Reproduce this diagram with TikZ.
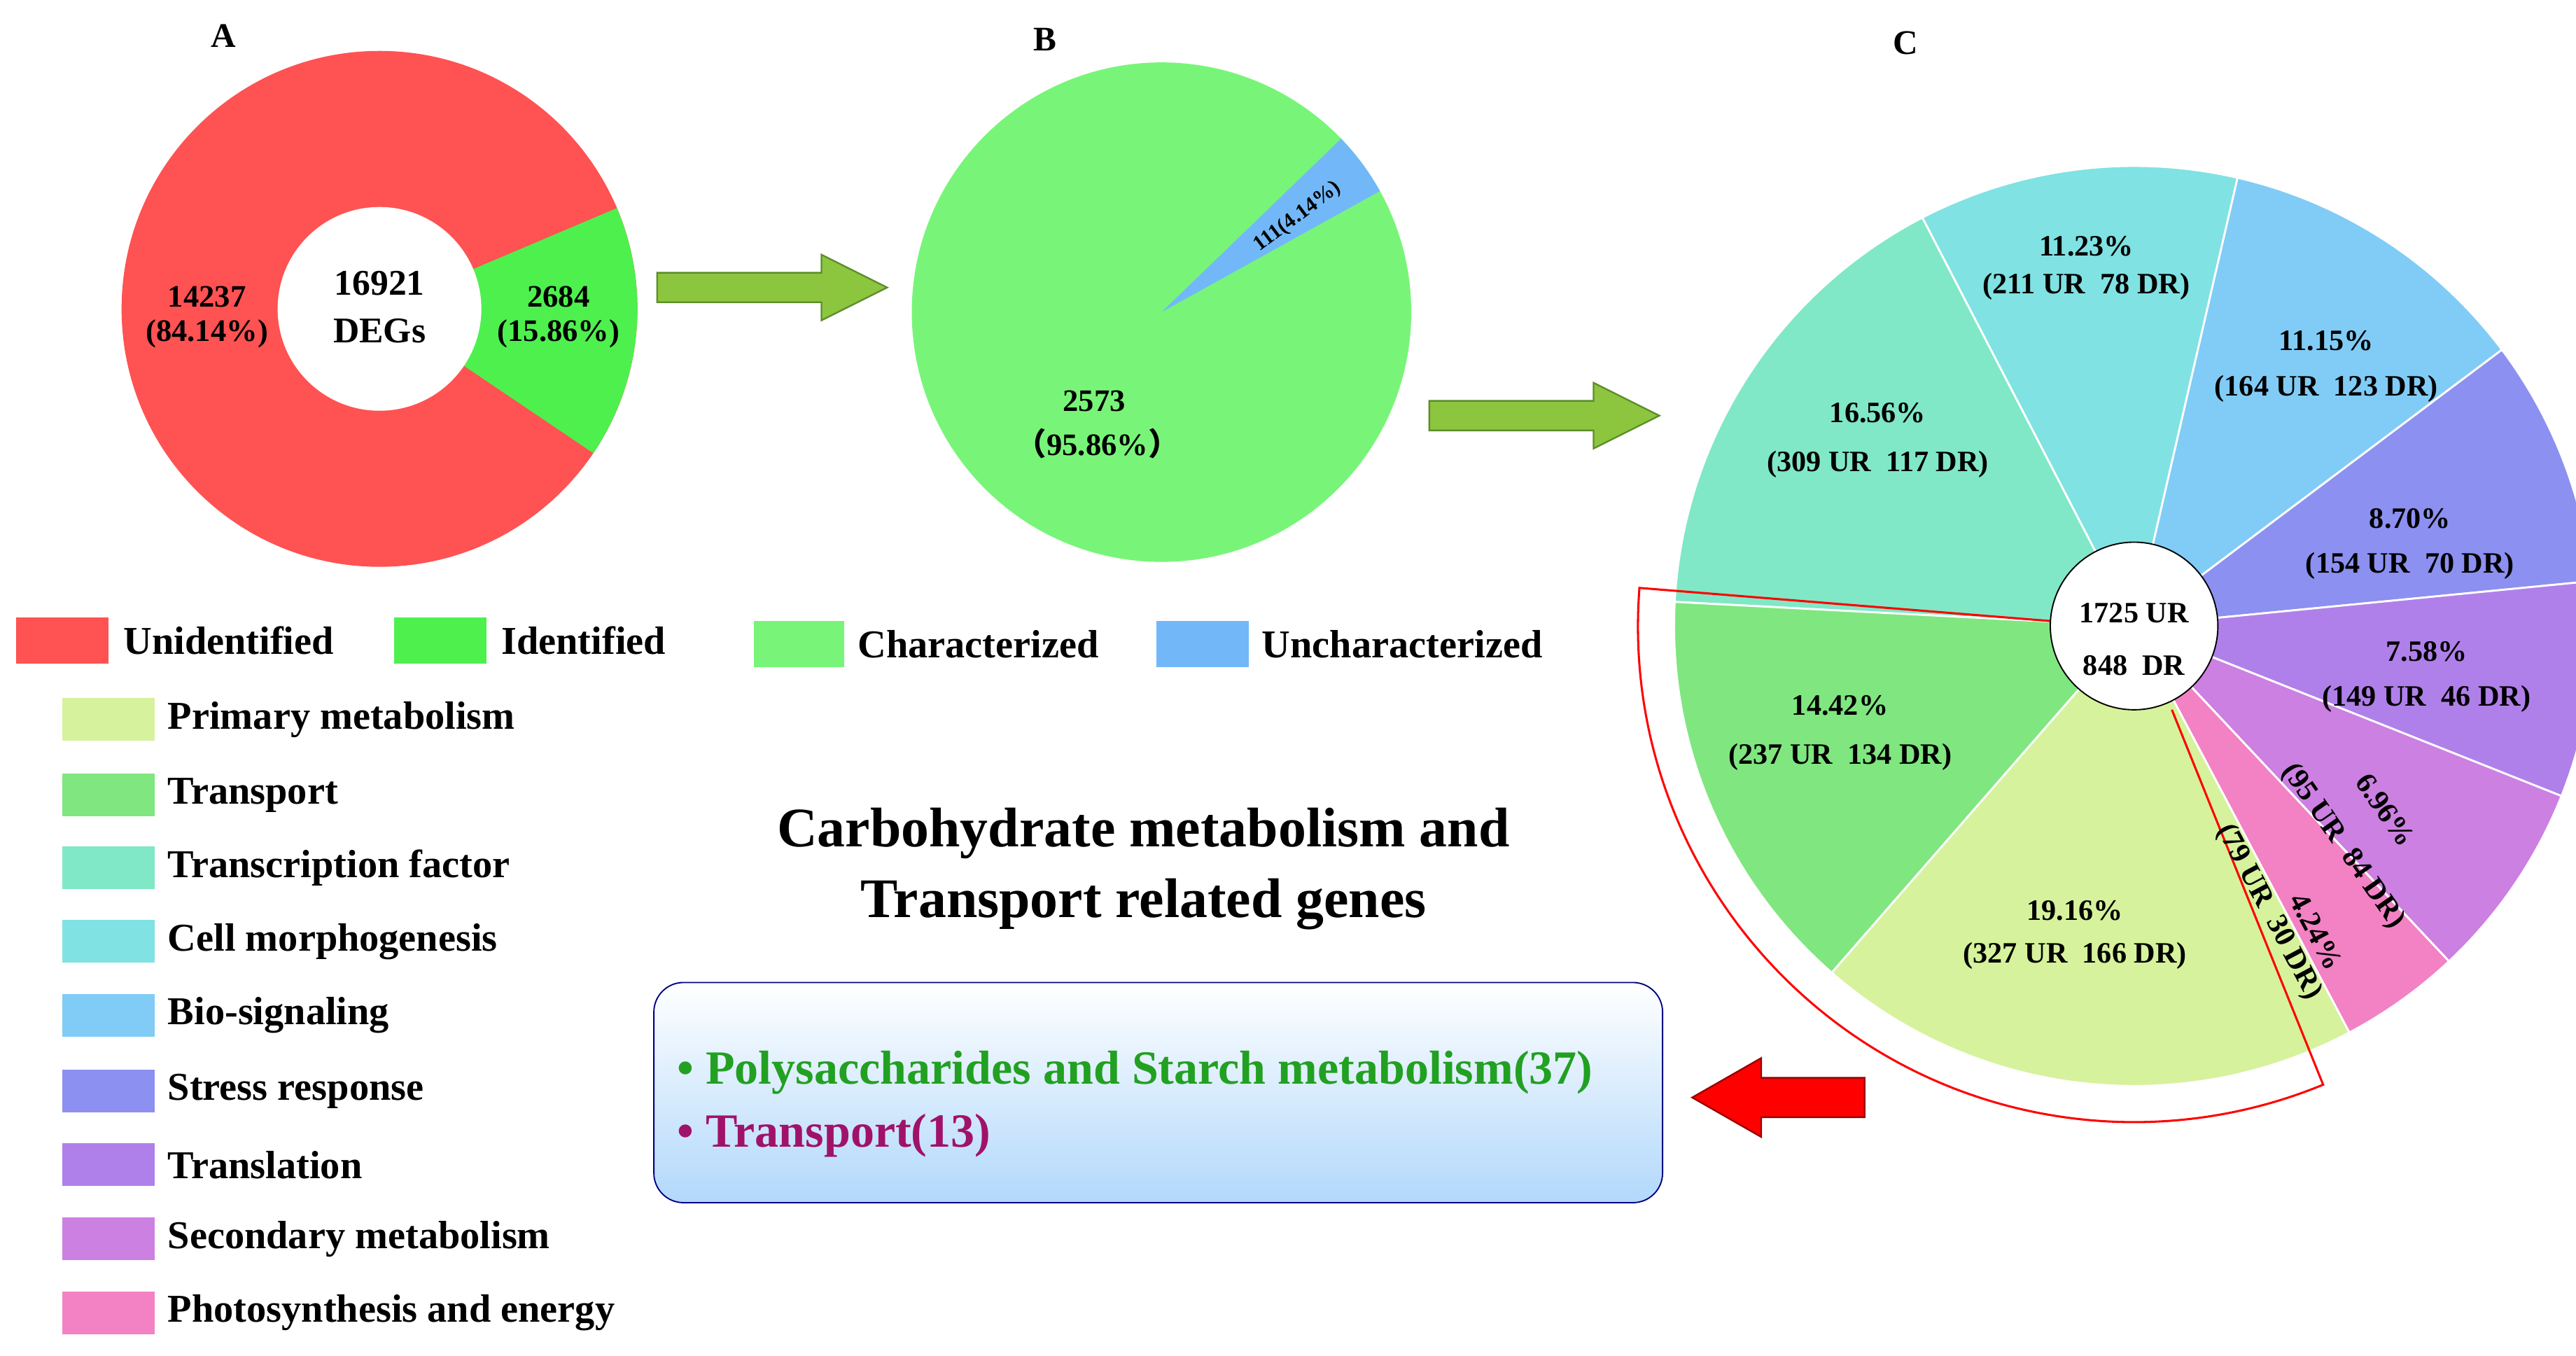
\documentclass[tikz,border=0pt]{standalone}
\usepackage{fontspec}
\setmainfont{Liberation Serif}
\newfontfamily\cjk{Noto Sans CJK SC}
\begin{document}
\begin{tikzpicture}[x=1pt,y=1pt,font=\bfseries,
  lg/.style={font=\bfseries\fontsize{24}{26}\selectfont,anchor=west,inner sep=0},
  pl/.style={font=\bfseries\fontsize{19}{21}\selectfont,align=center,inner sep=0},
  cl/.style={font=\bfseries\fontsize{18}{20}\selectfont,inner sep=0},
  sl/.style={draw=white,line width=1.2pt}]
\definecolor{cRed}{HTML}{FF5252}
\definecolor{cGreen}{HTML}{4EF04E}
\definecolor{cLG}{HTML}{78F578}
\definecolor{cBlue}{HTML}{72B8F8}
\definecolor{cPrim}{HTML}{D6F29C}
\definecolor{cTrans}{HTML}{80E680}
\definecolor{cTF}{HTML}{80E8C6}
\definecolor{cCell}{HTML}{80E2E2}
\definecolor{cBio}{HTML}{80CCF6}
\definecolor{cStress}{HTML}{8C90F0}
\definecolor{cTransl}{HTML}{B080EA}
\definecolor{cSec}{HTML}{CC80E2}
\definecolor{cPhoto}{HTML}{F282C4}
\definecolor{cArrow}{HTML}{8CC63F}
\definecolor{cArrowD}{HTML}{5E8C2A}
\definecolor{cItemG}{HTML}{22A022}
\definecolor{cItemP}{HTML}{A0126A}
\useasboundingbox (0,0) rectangle (1568,825);
% letters
\node[font=\bfseries\fontsize{21}{22}\selectfont] (lA) at (136,803) {A};
\node[font=\bfseries\fontsize{21}{22}\selectfont] (lB) at (636,801) {B};
\node[font=\bfseries\fontsize{21}{22}\selectfont] (lC) at (1160,799) {C};
% Pie A
\coordinate (ca) at (231,637);
\fill[cRed] (ca) circle (157);
\fill[cGreen] (ca) -- ++(-34:157) arc[start angle=-34,end angle=23,radius=157] -- cycle;
\fill[white] (ca) circle (62);
\node[pl,font=\bfseries\fontsize{22}{29}\selectfont] (degs) at (231,638) {16921\\DEGs};
\node[pl] (a1) at (126,632) {14237\\(84.14\%)};
\node[pl] (a2) at (340,632) {2684\\(15.86\%)};
% Pie B
\coordinate (cb) at (707,635);
\fill[cLG] (cb) circle (152);
\fill[cBlue] (cb) -- ++(29:152) arc[start angle=29,end angle=44,radius=152] -- cycle;
\node[pl] (b1) at (666,581) {2573};
\node[pl] (b2) at (668,555) {{\cjk （}95.86\%{\cjk ）}};
\node[cl,rotate=37,font=\bfseries\fontsize{13}{15}\selectfont] (b3) at (790,693) {111(4.14\%)};
% arrows
\filldraw[fill=cArrow,draw=cArrowD,line width=1pt] (400,641)--(500,641)--(500,630)--(540,650)--(500,670)--(500,659)--(400,659)--cycle;
\filldraw[fill=cArrow,draw=cArrowD,line width=1pt] (870,563)--(970,563)--(970,552)--(1010,572)--(970,592)--(970,581)--(870,581)--cycle;
\filldraw[fill=red,draw=red!60!black,line width=1pt] (1135,145)--(1072,145)--(1072,133)--(1030,157)--(1072,181)--(1072,169)--(1135,169)--cycle;
% Pie C
\coordinate (cc) at (1299,444);
\def\R{280}
\fill[cTF,sl] (cc) -- ++(177:\R) arc[start angle=177,end angle=117.4,radius=\R] -- cycle;
\fill[cCell,sl] (cc) -- ++(117.4:\R) arc[start angle=117.4,end angle=77,radius=\R] -- cycle;
\fill[cBio,sl] (cc) -- ++(77:\R) arc[start angle=77,end angle=36.9,radius=\R] -- cycle;
\fill[cStress,sl] (cc) -- ++(36.9:\R) arc[start angle=36.9,end angle=5.6,radius=\R] -- cycle;
\fill[cTransl,sl] (cc) -- ++(5.6:\R) arc[start angle=5.6,end angle=-21.7,radius=\R] -- cycle;
\fill[cSec,sl] (cc) -- ++(-21.7:\R) arc[start angle=-21.7,end angle=-46.8,radius=\R] -- cycle;
\fill[cPhoto,sl] (cc) -- ++(-46.8:\R) arc[start angle=-46.8,end angle=-62.1,radius=\R] -- cycle;
\fill[cPrim,sl,shift={(-4,-12)}] (cc) -- ++(-62.1:\R) arc[start angle=-62.1,end angle=-131.1,radius=\R] -- cycle;
\fill[cTrans,sl,shift={(-14,-8)}] (cc) -- ++(-131.1:\R) arc[start angle=-131.1,end angle=-183,radius=\R] -- cycle;
\draw[red,line width=1.3pt] (1248,447) -- ([shift={(175.6:302)}]cc) arc[start angle=175.6,end angle=292.4,radius=302] -- (1322,393);
\filldraw[fill=white,draw=black,line width=0.8pt] (cc) circle (51);
\node[cl,align=center,font=\bfseries\fontsize{18}{32}\selectfont] (cen) at (1299,436) {1725 UR\\848~~DR};
\node[cl,align=center,font=\bfseries\fontsize{18}{23}\selectfont] (s1) at (1270,662) {11.23\%\\(211 UR~~78 DR)};
\node[cl,align=center,font=\bfseries\fontsize{18}{28}\selectfont] (s2) at (1416,602) {11.15\%\\(164 UR~~123 DR)};
\node[cl,align=center,font=\bfseries\fontsize{18}{30}\selectfont] (s3) at (1143,557) {16.56\%\\(309 UR~~117 DR)};
\node[cl,align=center,font=\bfseries\fontsize{18}{27}\selectfont] (s4) at (1467,494) {8.70\%\\(154 UR~~70 DR)};
\node[cl,align=center,font=\bfseries\fontsize{18}{27}\selectfont] (s5) at (1477,413) {7.58\%\\(149 UR~~46 DR)};
\node[cl,align=center,font=\bfseries\fontsize{18}{30}\selectfont] (s6) at (1120,379) {14.42\%\\(237 UR~~134 DR)};
\node[cl,align=center,font=\bfseries\fontsize{18}{26}\selectfont] (s7) at (1263,256) {19.16\%\\(327 UR~~166 DR)};
\node[cl,rotate=-55] (s8a) at (1452,332) {6.96\%};
\node[cl,rotate=-55] (s8b) at (1426,310) {(95 UR~~84 DR)};
\node[cl,rotate=-62] (s9a) at (1410,258) {4.24\%};
\node[cl,rotate=-62] (s9b) at (1381,270) {(79 UR~~30 DR)};
% legend top row
\fill[cRed] (10,421) rectangle (66,449); \node[lg] (l1) at (75,435) {Unidentified};
\fill[cGreen] (240,421) rectangle (296,449); \node[lg] (l2) at (305,435) {Identified};
\fill[cLG] (459,419) rectangle (514,447); \node[lg] (l3) at (522,433) {Characterized};
\fill[cBlue] (704,419) rectangle (760,447); \node[lg] (l4) at (768,433) {Uncharacterized};
% legend list
\foreach \c/\t/\y [count=\i] in {cPrim/Primary metabolism/387,cTrans/Transport/341,cTF/Transcription factor/297,cCell/Cell morphogenesis/252,cBio/Bio-signaling/207,cStress/Stress response/161,cTransl/Translation/116,cSec/Secondary metabolism/71,cPhoto/Photosynthesis and energy/26}{
  \fill[\c] (38,\y-13) rectangle (94,\y+13);
  \node[lg] (li\i) at (102,\y) {\t};
}
% title
\node[align=center,font=\bfseries\fontsize{34}{43}\selectfont] (title) at (696,296) {Carbohydrate metabolism and\\Transport related genes};
\shade[rounded corners=18pt,top color=white,bottom color=cBlue!55] (398,93) rectangle (1012,227);
\draw[rounded corners=18pt,draw=blue!50!black,line width=0.8pt] (398,93) rectangle (1012,227);
\node[lg,text=cItemG,font=\bfseries\fontsize{29}{30}\selectfont] (it1) at (412,172) {\textbullet\ Polysaccharides and Starch metabolism(37)};
\node[lg,text=cItemP,font=\bfseries\fontsize{29}{30}\selectfont] (it2) at (412,134) {\textbullet\ Transport(13)};
\end{tikzpicture}
\end{document}
